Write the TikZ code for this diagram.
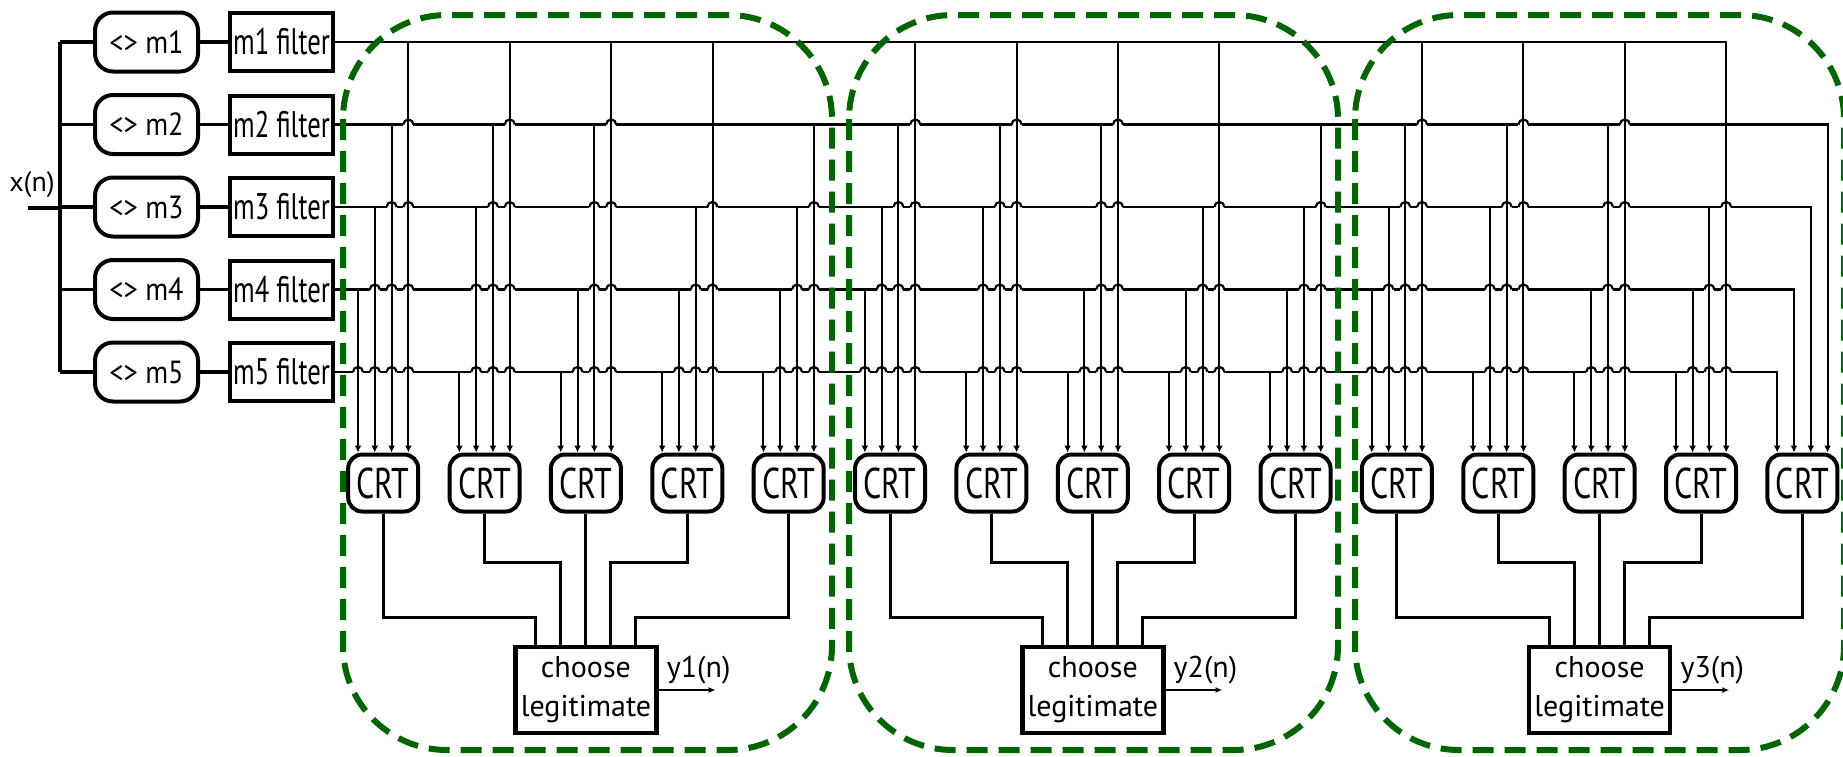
\documentclass[tikz,border=0pt]{standalone}
\usepackage{fontspec}
\setmainfont{PT Sans}
\newfontfamily\narrowfont[FakeStretch=0.74]{PT Sans}
\newfontfamily\modfont[FakeStretch=0.88]{PT Sans}
\newfontfamily\filterfont[FakeStretch=0.72,Numbers=OldStyle]{PT Sans}
\usepackage{tikz}
\usetikzlibrary{arrows.meta, calc}
\definecolor{GrpGreen}{RGB}{0,100,0}

\begin{document}
\begin{tikzpicture}[x=0.5pt, y=-0.5pt,
    modbox/.style={draw, line width=2pt, rounded corners=9pt, minimum width=51.5pt,
                   minimum height=29.5pt, inner sep=0pt,
                   font=\modfont\fontsize{16}{16}\selectfont},
    fltbox/.style={draw, line width=2pt, minimum width=51.5pt, minimum height=29pt,
                   inner sep=0pt, font=\filterfont\fontsize{18.5}{18.5}\selectfont},
    crtbox/.style={draw, line width=2pt, rounded corners=7pt, minimum width=35pt,
                   minimum height=28.5pt, inner sep=0pt,
                   font=\narrowfont\fontsize{21.5}{21.5}\selectfont},
    pickbox/.style={draw, line width=2.2pt, minimum width=70.5pt, minimum height=43pt,
                    inner sep=0pt, align=center, font=\fontsize{15}{19.5}\selectfont},
    lbl/.style={inner sep=0pt, font=\fontsize{15}{15}\selectfont},
    feed/.style={line width=1.6pt},
    bus/.style={line width=1.1pt, line cap=rect},
    tap/.style={line width=1pt, -{Latex[length=3.5pt,width=3.5pt]}},
    hop/.style={line width=1.1pt},
    vote/.style={line width=1.5pt},
    yout/.style={line width=0.8pt, -{Latex[length=3.5pt,width=3pt]}},
    grp/.style={draw=GrpGreen, line width=3pt, dash pattern=on 10.5pt off 5.5pt,
                rounded corners=52pt}
  ]
  \useasboundingbox (0,0) rectangle (1843,756);

  % input and the five modulus branches
  \node[lbl, font=\fontsize{14}{14}\selectfont] (xin) at (32,185) {x(n)};
  \coordinate (src) at (28,208);
  \coordinate (jn)  at (60,208);
  \foreach \i in {1,...,5}{
    \node[modbox] (mod\i) at (146.5,{42+82.5*(\i-1)}) {<> m\i};
    \node[fltbox] (flt\i) at (281.5,{42+82.5*(\i-1)}) {m\i\ filter};
    \draw[feed] (mod\i.west -| jn) -- (mod\i.west);
    \draw[feed] (mod\i) -- (flt\i);
  }
  \draw[feed] (src) -- (jn);
  \draw[feed] (mod1.west -| jn) -- (mod5.west -| jn);

  % CRT blocks and the selectors
  \foreach \g in {0,1,2}{
    \foreach \k in {1,...,5}{
      \pgfmathtruncatemacro{\idx}{5*\g+\k-1}
      \node[crtbox] (crt\idx) at ({383.2+101.37*\idx},483) {CRT};
    }
    \pgfmathtruncatemacro{\cm}{5*\g+2}
    \pgfmathtruncatemacro{\ca}{5*\g}
    \pgfmathtruncatemacro{\cb}{5*\g+1}
    \pgfmathtruncatemacro{\cd}{5*\g+3}
    \pgfmathtruncatemacro{\ce}{5*\g+4}
    \pgfmathtruncatemacro{\gn}{\g+1}
    \node[pickbox] (pick\g) at (crt\cm |- 0,690) {choose\\legitimate};
    \draw[vote] (crt\ca.south) |- ($(pick\g.north)+(-50,-27)$) -- ($(pick\g.north)+(-50,0)$);
    \draw[vote] (crt\cb.south) |- ($(pick\g.north)+(-25,-82)$) -- ($(pick\g.north)+(-25,0)$);
    \draw[vote] (crt\cm.south) -- (pick\g.north);
    \draw[vote] (crt\cd.south) |- ($(pick\g.north)+(25,-82)$) -- ($(pick\g.north)+(25,0)$);
    \draw[vote] (crt\ce.south) |- ($(pick\g.north)+(50,-27)$) -- ($(pick\g.north)+(50,0)$);
    \coordinate (yo\g) at ($(pick\g.east)+(57,0)$);
    \draw[yout] (pick\g.east) -- (yo\g);
    \node[lbl] (ylab\g) at ($(pick\g.east)+(40,-20)$) {y\gn(n)};
  }

  % residue buses
  \foreach \r/\xe in {1/1726.2, 2/1827.6, 3/1810.8, 4/1794.0, 5/1777.2}
    \draw[bus] (flt\r.east) -- (\xe,{42+82.5*(\r-1)});

  % taps: every CRT takes four of the five residues
  \foreach \idx in {0,...,14}{
    \pgfmathtruncatemacro{\k}{mod(\idx,5)+1}
    \pgfmathtruncatemacro{\s}{6-\k}
    \foreach \j in {0,...,3}{
      \pgfmathtruncatemacro{\m}{(5-\j>\s) ? 5-\j : 4-\j}
      \pgfmathsetmacro{\tx}{358+101.37*\idx+16.8*\j}
      \pgfmathsetmacro{\ty}{42+82.5*(\m-1)}
      \pgfmathtruncatemacro{\lo}{\m+1}
      \ifnum\m<5
        \foreach \r in {\lo,...,5}{
          \pgfmathtruncatemacro{\nohop}{(\idx==14) || ((\k==4) && (\m==1) && (\r==2))}
          \ifnum\nohop=0
            \pgfmathsetmacro{\hy}{42+82.5*(\r-1)}
            \draw[white, line width=2.8pt] ({\tx-5},\hy) -- ({\tx+5},\hy);
            \draw[hop] ({\tx-5},\hy) arc[start angle=180, end angle=0, radius=2.5pt];
          \fi
        }
      \fi
      \draw[tap] (\tx,\ty) -- (\tx,\ty |- crt\idx.north);
    }
  }

  % dashed outlines round each CRT bank
  \foreach \g in {0,1,2}
    \draw[grp] ({343+506*\g},15) rectangle ++(489,735);
\end{tikzpicture}
\end{document}
